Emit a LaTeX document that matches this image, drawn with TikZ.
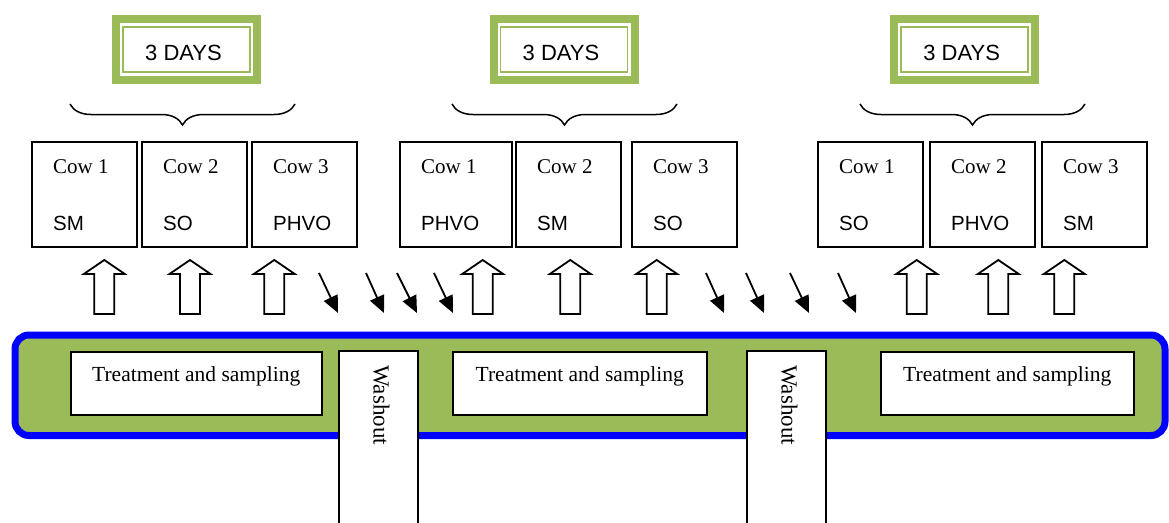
\documentclass[tikz,border=0pt]{standalone}
\usepackage{fontspec}
\setmainfont{Liberation Serif}
\newfontfamily\arialfont{Liberation Sans}
\usetikzlibrary{arrows.meta,decorations.pathreplacing,calc}
\definecolor{olivegreen}{HTML}{9BBB59}
\definecolor{bandblue}{HTML}{0000FF}
\newcommand\cowunit[5]{%
  \node[cowbox, minimum width=#3pt] (#1) at (#2,142) {};
  \node[cowtxt] (#1c) at ($(#1.north west)+(21,31)$) {#4};
  \node[feedtxt] (#1f) at ($(#1.north west)+(21,88)$) {#5};}
\newcommand\daysunit[2]{%
  \node[daysout] (#1) at (#2,49.5) {};
  \node[daysmid] (#1m) at (#1) {};
  \node[daysin] (#1i) at (#1) {};
  \node[daystxt] (#1t) at ($(#1)+(-3,3)$) {3 DAYS};}
\begin{document}
\begin{tikzpicture}[x=1pt,y=-1pt,
  cowbox/.style={draw, line width=1.6pt, fill=white, anchor=north west, minimum height=105pt, inner sep=0pt, outer sep=0pt},
  cowtxt/.style={anchor=base west, inner sep=0pt, font=\fontsize{21}{25}\selectfont},
  feedtxt/.style={anchor=base west, inner sep=0pt, font=\arialfont\fontsize{20.5}{25}\selectfont},
  daysout/.style={fill=olivegreen, minimum width=149pt, minimum height=69pt, inner sep=0pt},
  daysmid/.style={fill=white, minimum width=133pt, minimum height=53pt, inner sep=0pt},
  daysin/.style={draw=olivegreen, line width=1.5pt, minimum width=127pt, minimum height=45pt, inner sep=0pt},
  daystxt/.style={inner sep=0pt, font=\arialfont\fontsize{22}{26}\selectfont},
  bracestyle/.style={decorate, decoration={brace, mirror, amplitude=21pt}, line width=1.5pt},
  treat/.style={draw, line width=1.6pt, fill=white, anchor=north west, minimum height=63pt, inner sep=0pt},
  treattxt/.style={anchor=base, inner sep=0pt, font=\fontsize{21.5}{25}\selectfont},
  washbox/.style={draw, line width=1.6pt, fill=white, anchor=north west, minimum width=79pt, minimum height=185pt, inner sep=0pt},
  washtxt/.style={rotate=-90, inner sep=0pt, font=\fontsize{23}{27}\selectfont},
  band/.style={draw=bandblue, line width=7pt, fill=olivegreen, rounded corners=14pt, minimum width=1150pt, minimum height=100.5pt, inner sep=0pt},
  diag/.style={line width=1.8pt, -{Triangle[length=17pt,width=15pt]}},
  uparr/.pic={\draw[line width=1.8pt, fill=white, line join=miter] (-10,0) -- (-10,-40) -- (-20.5,-40) -- (0,-54) -- (20.5,-40) -- (10,-40) -- (10,0) -- cycle;}
]
\clip (0,0) rectangle (1169,522);
\fill[white] (0,0) rectangle (1169,522);

% 3 DAYS boxes
\daysunit{d1}{186.5}
\daysunit{d2}{564}
\daysunit{d3}{964.7}

% braces
\coordinate (b1l) at (70,104);  \coordinate (b1r) at (295,104);
\coordinate (b2l) at (452,104); \coordinate (b2r) at (677,104);
\coordinate (b3l) at (860,104); \coordinate (b3r) at (1085,104);
\draw[bracestyle] (b1l) -- (b1r);
\draw[bracestyle] (b2l) -- (b2r);
\draw[bracestyle] (b3l) -- (b3r);

% cow boxes
\cowunit{a1}{32}{105}{Cow 1}{SM}
\cowunit{a2}{142}{105}{Cow 2}{SO}
\cowunit{a3}{252}{105}{Cow 3}{PHVO}
\cowunit{b1}{400}{112}{Cow 1}{PHVO}
\cowunit{b2}{516}{105}{Cow 2}{SM}
\cowunit{b3}{632}{105}{Cow 3}{SO}
\cowunit{c1}{818}{105}{Cow 1}{SO}
\cowunit{c2}{930}{105}{Cow 2}{PHVO}
\cowunit{c3}{1042}{105}{Cow 3}{SM}

% up arrows
\pic (u1) at (104.3,314) {uparr};
\pic (u2) at (190,314) {uparr};
\pic (u3) at (274.3,314) {uparr};
\pic (u4) at (482.7,314) {uparr};
\pic (u5) at (570.3,314) {uparr};
\pic (u6) at (656.7,314) {uparr};
\pic (u7) at (916.7,314) {uparr};
\pic (u8) at (998.3,314) {uparr};
\pic (u9) at (1064.3,314) {uparr};

% diagonal arrows
\coordinate (p1s) at (319,273); \coordinate (p1e) at (338,313);
\coordinate (p2s) at (366,273); \coordinate (p2e) at (384,313);
\coordinate (p3s) at (397,273); \coordinate (p3e) at (417,313);
\coordinate (p4s) at (434,273); \coordinate (p4e) at (453,313);
\coordinate (q1s) at (706,273); \coordinate (q1e) at (724,313);
\coordinate (q2s) at (746,273); \coordinate (q2e) at (764,313);
\coordinate (q3s) at (790,273); \coordinate (q3e) at (809,313);
\coordinate (q4s) at (838,273); \coordinate (q4e) at (856,313);
\foreach \n in {p1,p2,p3,p4,q1,q2,q3,q4} {\draw[diag] (\n s) -- (\n e);}

% band
\node[band] (band) at (590,385.25) {};

% treatment boxes
\node[treat, minimum width=251pt] (t1) at (70,351) {};
\node[treattxt] (t1t) at ($(t1.north)+(0,30)$) {Treatment and sampling};
\node[treat, minimum width=254pt] (t2) at (452,351) {};
\node[treattxt] (t2t) at ($(t2.north)+(0,30)$) {Treatment and sampling};
\node[treat, minimum width=253pt] (t3) at (880,351) {};
\node[treattxt] (t3t) at ($(t3.north)+(0,30)$) {Treatment and sampling};

% washout boxes
\node[washbox] (w1) at (338,350) {};
\node[washtxt] (w1t) at ($(w1.north)+(3,55)$) {Washout};
\node[washbox] (w2) at (746,350) {};
\node[washtxt] (w2t) at ($(w2.north)+(3,55)$) {Washout};
\end{tikzpicture}
\end{document}
